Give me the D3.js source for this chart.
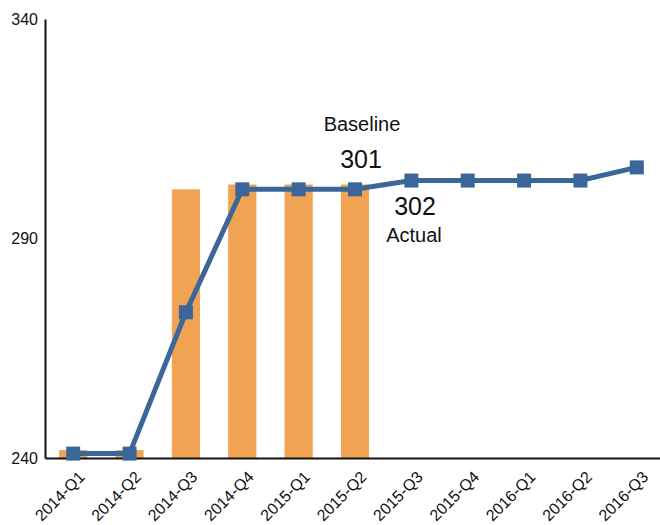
<!DOCTYPE html>
<html>
<head>
<meta charset="utf-8">
<script src="https://cdn.jsdelivr.net/npm/d3@7"></script>
<style>
  body { margin: 0; background: #fff; }
  text { font-family: "Liberation Sans", Arial, sans-serif; fill: #111; }
</style>
</head>
<body>
<div id="chart"></div>
<script>
// chart data
var categories = ["2014-Q1", "2014-Q2", "2014-Q3", "2014-Q4", "2015-Q1", "2015-Q2",
                  "2015-Q3", "2015-Q4", "2016-Q1", "2016-Q2", "2016-Q3"]
var barValues = [241.8, 241.8, 301.2, 302.3, 302.3, 302.3]
var lineValues = [241, 241, 273.2, 301.2, 301.2, 301.2, 303.2, 303.2, 303.2, 303.2, 306.2]
var yTicks = [240, 290, 340]

var width = 660, height = 525

var svg = d3.select("#chart")
    .append("svg")
    .attr("width", width)
    .attr("height", height)

// scales
var scale_x = d3.scalePoint()
    .domain(categories)
    .range([45, 665])
    .padding(0.5)

var scale_y = d3.scaleLinear()
    .domain([240, 340])
    .range([458, 19])

var bar_width = scale_x.step() * 0.5

// bars
svg.selectAll("rect.bar")
    .data(barValues)
    .enter()
    .append("rect")
    .attr("class", "bar")
    .attr("x", (d, i) => scale_x(categories[i]) - bar_width / 2)
    .attr("y", d => scale_y(d))
    .attr("width", bar_width)
    .attr("height", d => scale_y(240) - scale_y(d))
    .style("fill", "#f0a352")

// axes
var yAxis = svg.append("g")
    .attr("transform", "translate(45,0)")
    .call(d3.axisLeft(scale_y).tickValues(yTicks).tickSize(0).tickPadding(7))
yAxis.select(".domain").attr("stroke", "#111").attr("stroke-width", 2)
yAxis.selectAll("text").style("font-size", "16px").style("fill", "#111")

var xAxis = svg.append("g")
    .attr("transform", "translate(0," + scale_y(240) + ")")
    .call(d3.axisBottom(scale_x).tickSize(0).tickPadding(0))
xAxis.select(".domain").attr("stroke", "#111").attr("stroke-width", 2)
xAxis.selectAll("text")
    .style("font-size", "16px")
    .style("fill", "#111")
    .attr("text-anchor", "end")
    .attr("dy", null)
    .attr("y", 0)
    .attr("transform", "translate(12,20) rotate(-45)")

// line
var line = d3.line()
    .x((d, i) => scale_x(categories[i]))
    .y(d => scale_y(d))

svg.append("path")
    .datum(lineValues)
    .attr("d", line)
    .attr("fill", "none")
    .attr("stroke", "#3a6699")
    .attr("stroke-width", 5)

var marker = 14
svg.selectAll("rect.marker")
    .data(lineValues)
    .enter()
    .append("rect")
    .attr("class", "marker")
    .attr("x", (d, i) => scale_x(categories[i]) - marker / 2)
    .attr("y", d => scale_y(d) - marker / 2)
    .attr("width", marker)
    .attr("height", marker)
    .style("fill", "#3a6699")

// annotations
var notes = [
    {t: "Baseline", x: 362, y: 131, s: 20},
    {t: "301", x: 361, y: 168, s: 25},
    {t: "302", x: 415, y: 215, s: 25},
    {t: "Actual", x: 414, y: 242, s: 20}
]
svg.selectAll("text.note")
    .data(notes)
    .enter()
    .append("text")
    .attr("class", "note")
    .attr("x", d => d.x)
    .attr("y", d => d.y)
    .attr("text-anchor", "middle")
    .style("font-size", d => d.s + "px")
    .text(d => d.t)
</script>
</body>
</html>
